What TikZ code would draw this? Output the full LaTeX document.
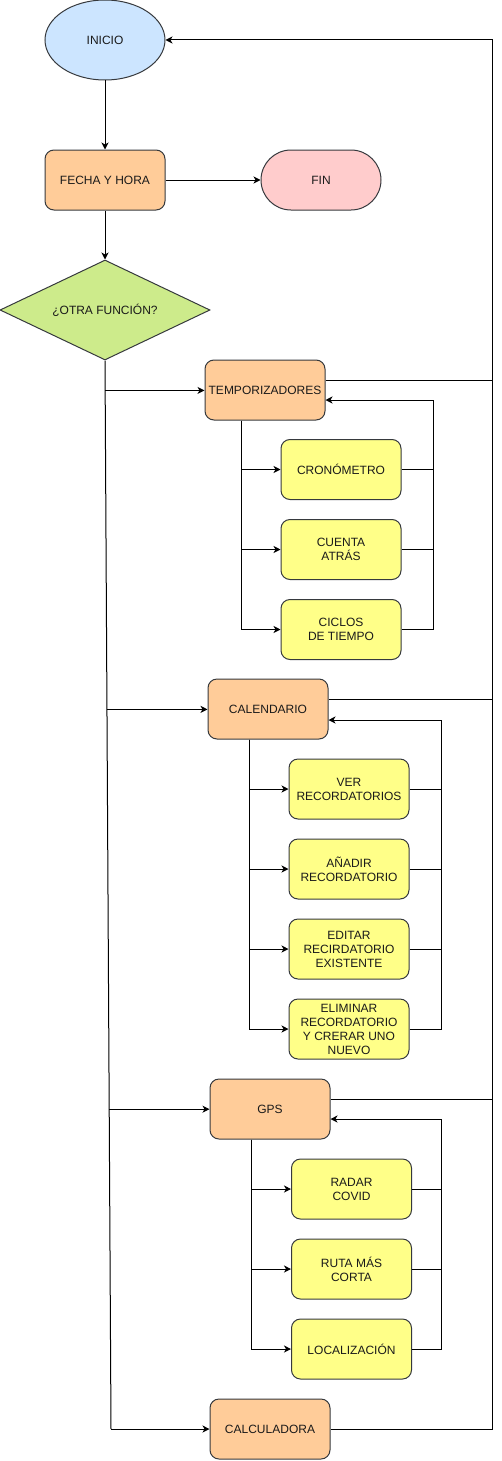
\documentclass[tikz,border=0pt]{standalone}
\usepackage{fontspec}
\setmainfont{Liberation Sans}
\usetikzlibrary{shapes.geometric,arrows.meta,calc}
\definecolor{cblue}{HTML}{CCE5FF}
\definecolor{corange}{HTML}{FFCC99}
\definecolor{cpink}{HTML}{FFCCCC}
\definecolor{cgreen}{HTML}{CDEB8B}
\definecolor{cyellow}{HTML}{FFFF88}
\definecolor{cstroke}{HTML}{36393D}
\definecolor{ctext}{HTML}{1A1A1A}
\begin{document}
\begin{tikzpicture}[x=1pt,y=-1pt,
  every node/.style={font=\fontsize{12}{14}\selectfont, text=ctext, align=center, inner sep=0pt},
  shp/.style={draw=cstroke, line width=1pt},
  box/.style={shp, rectangle, rounded corners=9pt, minimum width=120pt, minimum height=60pt},
  mainbox/.style={box, fill=corange},
  subbox/.style={box, fill=cyellow},
  conn/.style={line width=1pt, draw=black},
  arr/.style={conn, -{Stealth[length=7pt,width=7pt,inset=2pt]}}
]
\useasboundingbox (0,0) rectangle (501,1461);

% top part
\node[shp, ellipse, fill=cblue, minimum width=120pt, minimum height=80pt] (inicio) at (105,40) {INICIO};
\node[mainbox] (fecha) at (105,180) {FECHA Y HORA};
\node[shp, rectangle, rounded corners=30pt, fill=cpink, minimum width=120pt, minimum height=60pt] (fin) at (321,180) {FIN};
\node[shp, diamond, shape aspect=2.1, fill=cgreen, minimum width=210pt, minimum height=100pt] (otra) at (105,310) {¿OTRA FUNCIÓN?};

% main function boxes
\node[mainbox] (temp) at (265,390) {TEMPORIZADORES};
\node[mainbox] (cal) at (268,709) {CALENDARIO};
\node[mainbox] (gps) at (270,1109) {GPS};
\node[mainbox] (calc) at (270,1429) {CALCULADORA};

% temporizadores children
\node[subbox] (cron) at (341,469.5) {CRONÓMETRO};
\node[subbox] (cuenta) at (341,549.5) {CUENTA\\ATRÁS};
\node[subbox] (ciclos) at (341,629.5) {CICLOS\\DE TIEMPO};

% calendario children
\node[subbox] (ver) at (349,789) {VER\\RECORDATORIOS};
\node[subbox] (anadir) at (349,869) {AÑADIR\\RECORDATORIO};
\node[subbox] (editar) at (349,949) {EDITAR\\RECIRDATORIO\\EXISTENTE};
\node[subbox] (elim) at (349,1029) {ELIMINAR\\RECORDATORIO\\Y CRERAR UNO\\NUEVO};

% gps children
\node[subbox] (radar) at (351.5,1189) {RADAR\\COVID};
\node[subbox] (ruta) at (351.5,1269) {RUTA MÁS\\CORTA};
\node[subbox] (loc) at (351.5,1349) {LOCALIZACIÓN};

% top connectors
\draw[arr] (inicio) -- (fecha);
\draw[arr] (fecha) -- (otra);
\draw[arr] (fecha) -- (fin);

% trunk
\coordinate (bt) at (111,1429);
\draw[conn] (otra.south) -- (bt);
\path (otra.south) -- (bt)
  coordinate[pos=0.028] (b1)
  coordinate[pos=0.3265] (b2)
  coordinate[pos=0.7007] (b3);
\draw[arr] (b1) -- (b1 -| temp.west);
\draw[arr] (b2) -- (b2 -| cal.west);
\draw[arr] (b3) -- (b3 -| gps.west);
\draw[arr] (bt) -- (calc.west);

% outer return loop
\coordinate (rt) at (492,40);
\coordinate (rb) at (492,1429);
\draw[arr] (calc.east) -- (rb) -- (rt) -- (inicio.east);
\coordinate (e1) at ($(temp.east)+(0,-10)$);
\coordinate (e2) at ($(cal.east)+(0,-10)$);
\coordinate (e3) at ($(gps.east)+(0,-10)$);
\draw[conn] (e1) -- (e1 -| rt);
\draw[conn] (e2) -- (e2 -| rt);
\draw[conn] (e3) -- (e3 -| rt);

% temporizadores branches
\coordinate (tl) at ($(temp.south)+(-24,0)$);
\draw[arr] (tl) |- (cron.west);
\draw[arr] (tl) |- (cuenta.west);
\draw[arr] (tl) |- (ciclos.west);
\coordinate (tr) at (433,400);
\draw[conn] (cron.east) -| (tr);
\draw[conn] (cuenta.east) -| (tr);
\draw[conn] (ciclos.east) -| (tr);
\draw[arr] (tr) -- (tr -| temp.east);

% calendario branches
\coordinate (cl) at ($(cal.south)+(-19,0)$);
\draw[arr] (cl) |- (ver.west);
\draw[arr] (cl) |- (anadir.west);
\draw[arr] (cl) |- (editar.west);
\draw[arr] (cl) |- (elim.west);
\coordinate (cr) at (441,720);
\draw[conn] (ver.east) -| (cr);
\draw[conn] (anadir.east) -| (cr);
\draw[conn] (editar.east) -| (cr);
\draw[conn] (elim.east) -| (cr);
\draw[arr] (cr) -- (cr -| cal.east);

% gps branches
\coordinate (gl) at ($(gps.south)+(-19,0)$);
\draw[arr] (gl) |- (radar.west);
\draw[arr] (gl) |- (ruta.west);
\draw[arr] (gl) |- (loc.west);
\coordinate (gr) at (441,1119);
\draw[conn] (radar.east) -| (gr);
\draw[conn] (ruta.east) -| (gr);
\draw[conn] (loc.east) -| (gr);
\draw[arr] (gr) -- (gr -| gps.east);
\end{tikzpicture}
\end{document}
